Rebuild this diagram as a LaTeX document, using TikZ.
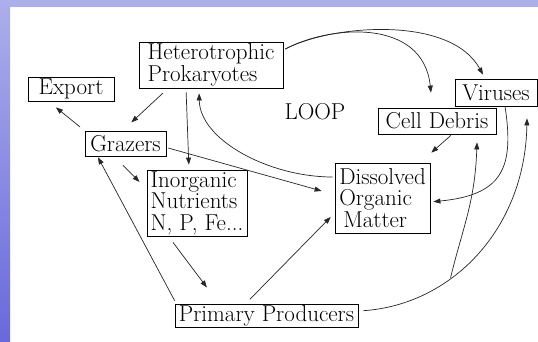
\documentclass[tikz,border=0pt]{standalone}
\usetikzlibrary{arrows.meta}
\definecolor{topblue}{HTML}{ACAFEA}
\definecolor{botblue}{HTML}{6969DC}
\begin{document}
\begin{tikzpicture}[x=1pt,y=-1pt,
  lbl/.style={font=\fontsize{23}{21.5}\selectfont},
  box/.style={lbl,draw=black,line width=0.8pt,inner sep=1pt,align=left},
  arr/.style={draw=black!85,line width=0.7pt,-{Triangle[length=7pt,width=5pt]}}]
\useasboundingbox (0,0) rectangle (538,341);
\fill[white] (0,0) rectangle (538,341);
\fill[topblue] (0,0) rectangle (538,7);
\shade[top color=topblue,bottom color=botblue] (0,0) rectangle (10,341);

\node[box,minimum width=144pt,minimum height=46pt] (het) at (211,65) {Heterotrophic\\Prokaryotes};
\node[box,minimum width=86pt,minimum height=24pt] (export) at (71,89) {Export};
\node[box,minimum width=81pt,minimum height=25pt] (grazers) at (125.5,143.5) {Grazers};
\node[box,minimum width=100pt,minimum height=66pt] (inorg) at (197,203) {Inorganic\\Nutrients\\N, P, Fe...};
\node[lbl] (loop) at (315,112) {LOOP};
\node[box,minimum width=118pt,minimum height=26pt] (debris) at (437,121) {Cell Debris};
\node[box,minimum width=82pt,minimum height=27pt] (viruses) at (496,92.5) {Viruses};
\node[box,minimum width=95pt,minimum height=70pt] (dom) at (382.5,198) {Dissolved\\Organic\\\hspace{4pt}Matter};
\node[box,minimum width=183pt,minimum height=22pt] (pp) at (266.5,316) {Primary Producers};

\draw[arr,shorten <=7pt,shorten >=12pt] ([xshift=-43pt]het.south) -- ([xshift=-3pt]grazers.north);
\draw[arr,shorten <=6pt,shorten >=9.5pt] (grazers.north west) -- ([xshift=-22.5pt]export.south);
\draw[arr,shorten <=4pt,shorten >=5pt] ([xshift=-25pt]het.south) -- ([xshift=-8pt]inorg.north);
\draw[arr,shorten <=12.5pt,shorten >=10pt] ([xshift=-11.5pt]grazers.south) -- ([yshift=14pt]inorg.west);
\draw[arr,shorten <=2pt,shorten >=13.5pt] ([yshift=-4pt]grazers.east) -- ([yshift=3.4pt]dom.west);
\draw[arr,shorten <=2pt,shorten >=5pt] ([yshift=21pt]dom.west) .. controls +(-65,0) and +(1,52) .. ([xshift=-12pt]het.south);
\draw[arr,shorten <=2pt] ([yshift=15pt]het.east) .. controls +(47,-25) and +(-8,-75) .. ([xshift=-6pt,yshift=15pt]debris.north);
\draw[arr,shorten <=2pt] ([yshift=15pt]het.east) .. controls +(47,-25) and +(-33,-60) .. ([xshift=-13pt,yshift=4pt]viruses.north);
\draw[arr,shorten <=1.5pt,shorten >=15pt] ([xshift=15pt]debris.south) -- ([xshift=37.5pt]dom.north);
\draw[arr,shorten >=3pt] ([xshift=9pt]viruses.south) .. controls +(10,64) and +(70,-7) .. ([yshift=-4pt]dom.east);
\draw[arr,shorten <=5pt] ([yshift=5pt]pp.east) .. controls +(92,-6) and +(-2,112) .. ([xshift=31pt,yshift=-12pt]viruses.south) coordinate[pos=0.37] (branch);
\draw[arr] (branch) .. controls +(12,-50) and +(-2,60) .. ([xshift=40pt,yshift=-8pt]debris.south);
\draw[arr,shorten <=7pt,shorten >=5.5pt] ([xshift=-21.5pt]pp.north) -- ([yshift=-15pt]dom.west);
\draw[arr,shorten <=4pt,shorten >=1pt] ([xshift=2pt]pp.north west) -- ([xshift=-28pt]grazers.south);
\draw[arr,shorten <=7.5pt,shorten >=21pt] ([xshift=-28.5pt]inorg.south) -- ([xshift=-47pt]pp.north);
\end{tikzpicture}
\end{document}
